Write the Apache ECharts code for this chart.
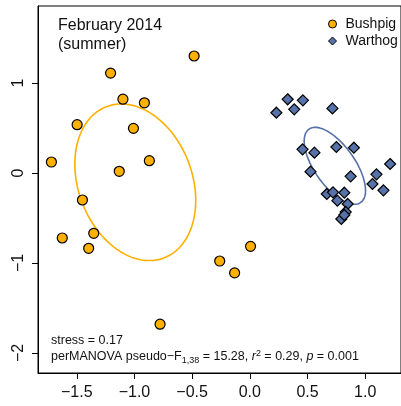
<!DOCTYPE html>
<html>
<head>
<meta charset="utf-8">
<script src="https://cdn.jsdelivr.net/npm/echarts@6/dist/echarts.min.js"></script>
<style>html,body{margin:0;padding:0;background:#fff;}#c{width:401px;height:406px;}</style>
</head>
<body>
<div id="c"></div>
<script>
// ---- data ----
const bushpigX = [-0.483,-1.207,-1.10,-0.914,-1.497,-1.009,-1.72,-0.871,-1.132,-1.451,-1.626,-1.353,-1.397,-0.778,0.006,-0.261,-0.132];
const bushpigY = [1.30,1.11,0.82,0.78,0.537,0.496,0.122,0.137,0.019,-0.30,-0.722,-0.67,-0.837,-1.68,-0.815,-0.978,-1.11];
const warthogX = [0.230,0.328,0.385,0.460,0.716,0.457,0.560,0.750,0.902,0.526,0.874,1.216,1.098,1.063,1.158,0.667,0.721,0.819,0.759,0.848,0.831,0.793,0.819];
const warthogY = [0.670,0.819,0.707,0.807,0.718,0.263,0.226,0.289,0.281,0.015,-0.037,0.10,-0.015,-0.122,-0.193,-0.233,-0.215,-0.219,-0.307,-0.344,-0.433,-0.511,-0.467];
// ellipse: centre [x,y] and shape matrix [a, b, c] (var x, var y, cov)
const bushpigEllCentre = [-0.993, -0.103];
const bushpigEllShape = [0.2746, 0.757, -0.1058];
const warthogEllCentre = [0.737, 0.080];
const warthogEllShape = [0.0708, 0.183, -0.0732];
const xTicks = [-1.5, -1.0, -0.5, 0.0, 0.5, 1.0];
const yTicks = [-2, -1, 0, 1];
const groups = ['Bushpig', 'Warthog'];

const orange = '#FFB000';
const blue = '#5672A8';
const FONT = '"Liberation Sans", Arial, Helvetica, sans-serif';

function zip(xs, ys){ return xs.map((x,i)=>[x, ys[i]]); }
function ellipse(c, s){
  const sa = Math.sqrt(s[0]);
  const l21 = s[2]/sa;
  const l22 = Math.sqrt(s[1] - l21*l21);
  const pts = [];
  for (let i=0;i<=120;i++){
    const t = i/120*2*Math.PI;
    const u = Math.cos(t), v = Math.sin(t);
    pts.push([c[0] + sa*u, c[1] + l21*u + l22*v]);
  }
  return pts;
}
function fmtX(v){ return (v<0?'\u2212':'') + Math.abs(v).toFixed(1); }
function fmtY(v){ return (v<0?'\u2212':'') + Math.abs(v).toFixed(0); }

const chart = echarts.init(document.getElementById('c'), null, {renderer:'canvas'});
chart.setOption({
  animation: false,
  backgroundColor: '#fff',
  grid: { left: 38, top: 6, width: 365, height: 367, show: true, borderColor: '#000', borderWidth: 1, backgroundColor: 'transparent' },
  xAxis: {
    type: 'value', min: -1.8362, max: 1.3103,
    splitLine: { show: false },
    axisLine: { show: true, onZero: false, lineStyle: { color: '#000', width: 1 } },
    axisTick: { show: true, length: 6, lineStyle: { color: '#000' }, customValues: xTicks },
    axisLabel: { customValues: xTicks, formatter: fmtX, color: '#111', fontSize: 16, fontFamily: FONT, margin: 12 }
  },
  yAxis: {
    type: 'value', min: -2.2222, max: 1.8556,
    splitLine: { show: false },
    axisLine: { show: true, onZero: false, lineStyle: { color: '#000', width: 1 } },
    axisTick: { show: true, length: 6, lineStyle: { color: '#000' }, customValues: yTicks },
    axisLabel: { customValues: yTicks, formatter: fmtY, rotate: 90, color: '#111', fontSize: 16, fontFamily: FONT, margin: 11 }
  },
  legend: {
    data: groups,
    orient: 'vertical',
    left: 328, top: 17, padding: 0,
    itemWidth: 8, itemHeight: 8, itemGap: 3,
    itemStyle: { borderWidth: 1 },
    textStyle: { fontSize: 14, fontFamily: FONT, color: '#111', padding: [0,0,0,4] },
    selectedMode: false
  },
  series: [
    { name: 'BushpigEll', type: 'line', data: ellipse(bushpigEllCentre, bushpigEllShape), showSymbol: false, symbol: 'none', silent: true, z: 1,
      lineStyle: { color: orange, width: 1.6 } },
    { name: 'WarthogEll', type: 'line', data: ellipse(warthogEllCentre, warthogEllShape), showSymbol: false, symbol: 'none', silent: true, z: 1,
      lineStyle: { color: blue, width: 1.6 } },
    { name: groups[0], type: 'scatter', data: zip(bushpigX, bushpigY), symbol: 'circle', symbolSize: 10, z: 3,
      itemStyle: { color: orange, borderColor: '#000', borderWidth: 1.2, opacity: 1 } },
    { name: groups[1], type: 'scatter', data: zip(warthogX, warthogY), symbol: 'diamond', symbolSize: 11, z: 3,
      itemStyle: { color: blue, borderColor: '#000', borderWidth: 1.2, opacity: 1 } }
  ],
  graphic: [
    { type: 'text', left: 58, top: 16, style: { text: 'February 2014\n(summer)', font: '16px ' + FONT, fill: '#111', lineHeight: 19 } },
    { type: 'text', left: 51, top: 334, style: { text: 'stress = 0.17', font: '12.5px ' + FONT, fill: '#111' } },
    { type: 'text', left: 51, top: 349, style: {
        text: 'perMANOVA pseudo\u2212F{sub|1,38} = 15.28, {it|r}{sup|2} = 0.29, {it|p} = 0.001',
        font: '12.5px ' + FONT, fill: '#111', lineHeight: 16,
        rich: {
          sub: { fontSize: 9, fontFamily: FONT, fill: '#111', verticalAlign: 'bottom', lineHeight: 16, padding: [5,0,0,0] },
          sup: { fontSize: 9, fontFamily: FONT, fill: '#111', verticalAlign: 'top', lineHeight: 10 },
          it: { fontSize: 12.5, fontStyle: 'italic', fontFamily: FONT, fill: '#111' }
        } } }
  ]
});
</script>
</body>
</html>
